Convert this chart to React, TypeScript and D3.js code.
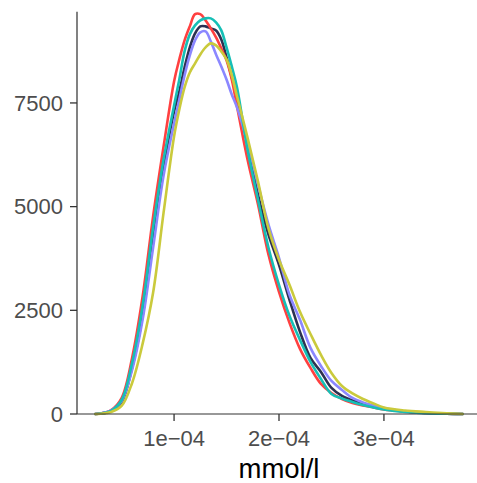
import React from "react";
import * as d3 from "d3";

// x grid in mmol/l
const X_VALUES = [2.5e-5, 3e-5, 4e-5, 5e-5, 6e-5, 7e-5, 8e-5, 9e-5, 10e-5, 10.5e-5, 11e-5, 11.5e-5, 12e-5, 12.5e-5, 13e-5, 13.5e-5, 14e-5, 14.5e-5, 15e-5, 15.5e-5, 16e-5, 17e-5, 18e-5, 19e-5, 20e-5, 21e-5, 22e-5, 23e-5, 24e-5, 25e-5, 26e-5, 27e-5, 28e-5, 29e-5, 30e-5, 32e-5, 34e-5, 36e-5, 37.5e-5];

const NAVY = [0, 10, 72, 290, 1111, 2367, 4202, 5941, 7293, 7776, 8356, 8839, 9177, 9346, 9346, 9298, 9249, 9032, 8597, 8114, 7631, 6496, 5289, 4323, 3598, 2753, 1980, 1352, 1014, 628, 435, 326, 254, 193, 133, 60, 24, 5, 0];
const RED = [0, 12, 97, 386, 1352, 2826, 4757, 6448, 8018, 8549, 9008, 9346, 9640, 9640, 9491, 9298, 9080, 8815, 8525, 8066, 7414, 6134, 5054, 3840, 2946, 2198, 1570, 1111, 725, 507, 362, 266, 205, 157, 109, 60, 24, 7, 0];
const LAVENDER = [0, 12, 85, 314, 1063, 2270, 4009, 5748, 7004, 7581, 8163, 8646, 9008, 9201, 9225, 8984, 8670, 8380, 8066, 7704, 7390, 6545, 5530, 4564, 3767, 2874, 2270, 1594, 1159, 797, 580, 386, 278, 205, 145, 60, 24, 5, 0];
const TEAL = [0, 10, 77, 338, 1232, 2608, 4492, 6134, 7438, 8066, 8742, 9153, 9370, 9491, 9539, 9539, 9443, 9249, 8839, 8380, 7873, 6376, 5168, 4009, 3115, 2367, 1787, 1256, 845, 483, 374, 290, 217, 157, 109, 48, 19, 5, 0];
const YELLOW = [0, 7, 48, 193, 749, 1690, 2922, 4854, 6690, 7342, 7873, 8235, 8453, 8670, 8839, 8936, 8887, 8742, 8549, 8163, 7655, 6665, 5603, 4468, 3719, 3115, 2463, 1930, 1425, 990, 676, 495, 362, 254, 157, 85, 48, 17, 0];

const SERIES = [
  { name: "navy", values: NAVY, color: "#2C3152" },
  { name: "red", values: RED, color: "#FF4040" },
  { name: "lavender", values: LAVENDER, color: "#8B87FF" },
  { name: "teal", values: TEAL, color: "#16BFB6" },
  { name: "yellow", values: YELLOW, color: "#CACA3C" },
];

const X_TICKS = [1e-4, 2e-4, 3e-4];
const X_TICK_LABELS = ["1e\u221204", "2e\u221204", "3e\u221204"];
const Y_TICKS = [0, 2500, 5000, 7500];
const Y_TICK_LABELS = ["0", "2500", "5000", "7500"];
const X_TITLE = "mmol/l";

const W = 477;
const H = 483;
const LEFT = 77;
const RIGHT = 481;
const TOP = 11.7;
const BOTTOM = 414;
const FONT = "'Liberation Sans', Arial, Helvetica, sans-serif";

export default function App() {
  const [xmin, xmax] = d3.extent(X_VALUES) as [number, number];
  const pad = (xmax - xmin) * 0.05;
  const x = d3.scaleLinear().domain([xmin - pad, xmax + pad]).range([LEFT, RIGHT]);
  const ymax = 9700;
  const y = d3.scaleLinear().domain([0, ymax]).range([BOTTOM, TOP]);

  const line = d3
    .line<number>()
    .x((_, i) => x(X_VALUES[i]))
    .y((d) => Math.min(y(d), BOTTOM))
    .curve(d3.curveCatmullRom.alpha(0.5));

  return (
    <div style={{ position: "absolute", left: 0, top: 0 }}>
      <svg width={W} height={H} style={{ display: "block", background: "#fff" }}>
        <rect width={W} height={H} fill="#fff" />
        {SERIES.map((s) => (
          <path
            key={s.name}
            d={line(s.values) || ""}
            fill="none"
            stroke={s.color}
            strokeWidth={2.6}
            strokeLinejoin="round"
            strokeLinecap="round"
          />
        ))}
        {/* axes */}
        <line x1={LEFT} x2={LEFT} y1={TOP} y2={BOTTOM} stroke="#1a1a1a" strokeWidth={1.1} />
        <line x1={LEFT} x2={W} y1={BOTTOM} y2={BOTTOM} stroke="#333" strokeWidth={1.1} />
        {Y_TICKS.map((t, i) => (
          <g key={"y" + t}>
            <line x1={LEFT - 7} x2={LEFT} y1={y(t)} y2={y(t)} stroke="#333" strokeWidth={1.3} />
            <text
              x={63}
              y={y(t)}
              dy="0.35em"
              textAnchor="end"
              fontFamily={FONT}
              fontSize={22}
              fill="#4D4D4D"
            >
              {Y_TICK_LABELS[i]}
            </text>
          </g>
        ))}
        {X_TICKS.map((t, i) => (
          <g key={"x" + t}>
            <line x1={x(t)} x2={x(t)} y1={BOTTOM} y2={BOTTOM + 7} stroke="#333" strokeWidth={1.3} />
            <text
              x={x(t)}
              y={446}
              textAnchor="middle"
              fontFamily={FONT}
              fontSize={22}
              fill="#4D4D4D"
            >
              {X_TICK_LABELS[i]}
            </text>
          </g>
        ))}
        <text
          x={(LEFT + RIGHT) / 2}
          y={478}
          textAnchor="middle"
          fontFamily={FONT}
          fontSize={27.5}
          fill="#000"
        >
          {X_TITLE}
        </text>
      </svg>
    </div>
  );
}
